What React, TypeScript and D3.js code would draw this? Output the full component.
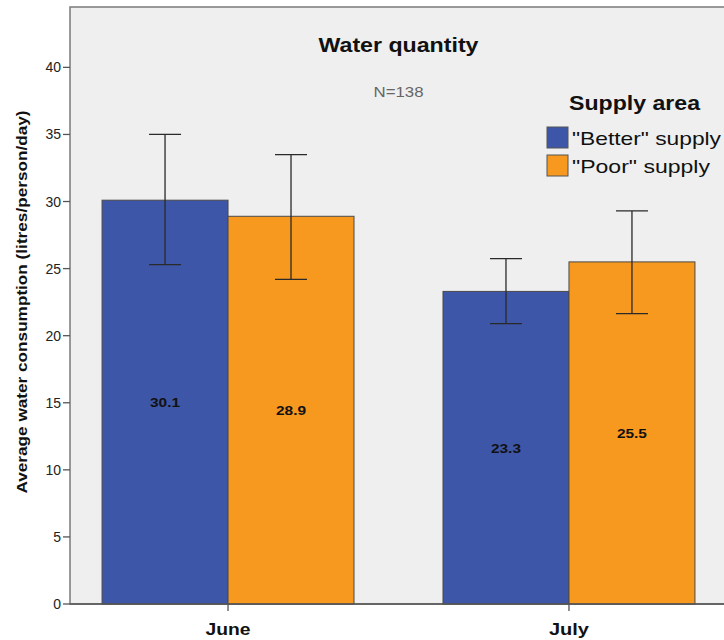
import React, { useEffect, useRef } from "react";
import * as d3 from "d3";

const months = ["June", "July"];
const groups = ['"Better" supply', '"Poor" supply'];
const colors = ["#3d56a8", "#f7981f"];
// mean, lower and upper 95% CI for each month, per group
const betterMean = [30.1, 23.3];
const betterLow = [25.3, 20.9];
const betterHigh = [35.0, 25.75];
const poorMean = [28.9, 25.5];
const poorLow = [24.2, 21.65];
const poorHigh = [33.5, 29.3];
const yTicks = [0, 5, 10, 15, 20, 25, 30, 35, 40];

const App = () => {
  const ref = useRef<SVGSVGElement>(null);

  useEffect(() => {
    const width = 724;
    const height = 640;
    const margin = { top: 7, right: -3, bottom: 36, left: 70 };

    const svg = d3.select(ref.current);
    svg.selectAll("*").remove();
    svg.style("font-family", "Arial, 'Liberation Sans', sans-serif");

    const x = d3.scaleBand()
      .domain(months)
      .range([margin.left, width - margin.right])
      .paddingInner(0.261)
      .paddingOuter(0.094);
    const xs = d3.scaleBand().domain(groups).range([0, x.bandwidth()]);
    const y = d3.scaleLinear()
      .domain([0, 44.5])
      .range([height - margin.bottom, margin.top]);

    // plot background
    svg.append("rect")
      .attr("x", margin.left)
      .attr("y", margin.top)
      .attr("width", width - margin.right - margin.left)
      .attr("height", y(0) - margin.top)
      .attr("fill", "#efefef")
      .attr("stroke", "#7a7a7a")
      .attr("stroke-width", 1.5);

    const rows = months.map((m, i) => ({
      month: m,
      vals: [
        { g: groups[0], mean: betterMean[i], lo: betterLow[i], hi: betterHigh[i], c: colors[0] },
        { g: groups[1], mean: poorMean[i], lo: poorLow[i], hi: poorHigh[i], c: colors[1] },
      ],
    }));

    const grp = svg.selectAll("g.month")
      .data(rows)
      .join("g")
      .attr("class", "month")
      .attr("transform", d => `translate(${x(d.month)},0)`);

    const items = grp.selectAll("g.bar")
      .data(d => d.vals)
      .join("g")
      .attr("class", "bar");

    items.append("rect")
      .attr("x", d => xs(d.g)!)
      .attr("y", d => y(d.mean))
      .attr("width", xs.bandwidth())
      .attr("height", d => y(0) - y(d.mean))
      .attr("fill", d => d.c)
      .attr("stroke", "#4a4a4a")
      .attr("stroke-width", 1);

    items.append("text")
      .attr("x", d => xs(d.g)! + xs.bandwidth() / 2)
      .attr("y", d => y(d.mean / 2) + 5)
      .attr("text-anchor", "middle")
      .attr("font-size", 13)
      .attr("font-weight", "bold")
      .attr("fill", "#111")
      .attr("textLength", 30)
      .attr("lengthAdjust", "spacingAndGlyphs")
      .text(d => d.mean.toFixed(1));

    const cap = 16;
    items.append("path")
      .attr("d", d => {
        const cx = xs(d.g)! + xs.bandwidth() / 2;
        return `M${cx - cap},${y(d.hi)}H${cx + cap}M${cx},${y(d.hi)}V${y(d.lo)}M${cx - cap},${y(d.lo)}H${cx + cap}`;
      })
      .attr("fill", "none")
      .attr("stroke", "#2a2a2a")
      .attr("stroke-width", 1.3);

    // y axis
    const yAxis = svg.append("g").attr("transform", `translate(${margin.left},0)`);
    yTicks.forEach(t => {
      yAxis.append("line")
        .attr("x1", -7).attr("x2", 0)
        .attr("y1", y(t)).attr("y2", y(t))
        .attr("stroke", "#555").attr("stroke-width", 1.3);
      yAxis.append("text")
        .attr("x", -9).attr("y", y(t) + 5)
        .attr("text-anchor", "end")
        .attr("font-size", 14)
        .attr("fill", "#222")
        .text(t);
    });

    // x axis
    svg.append("line")
      .attr("x1", margin.left).attr("x2", width)
      .attr("y1", y(0)).attr("y2", y(0))
      .attr("stroke", "#555").attr("stroke-width", 1.5);
    months.forEach(m => {
      const cx = x(m)! + x.bandwidth() / 2;
      svg.append("line")
        .attr("x1", cx).attr("x2", cx)
        .attr("y1", y(0)).attr("y2", y(0) + 7)
        .attr("stroke", "#555").attr("stroke-width", 1.3);
      svg.append("text")
        .attr("x", cx).attr("y", 635)
        .attr("text-anchor", "middle")
        .attr("font-size", 17)
        .attr("font-weight", "bold")
        .attr("fill", "#111")
        .attr("textLength", m === "June" ? 45 : 40)
        .attr("lengthAdjust", "spacingAndGlyphs")
        .text(m);
    });

    svg.append("text")
      .attr("transform", `translate(27,302) rotate(-90)`)
      .attr("text-anchor", "middle")
      .attr("font-size", 14)
      .attr("font-weight", "bold")
      .attr("fill", "#111")
      .attr("textLength", 383)
      .attr("lengthAdjust", "spacingAndGlyphs")
      .text("Average water consumption (litres/person/day)");

    const mid = (margin.left + width - margin.right) / 2;
    svg.append("text")
      .attr("x", mid).attr("y", 52)
      .attr("text-anchor", "middle")
      .attr("font-size", 20)
      .attr("font-weight", "bold")
      .attr("fill", "#111")
      .attr("textLength", 160)
      .attr("lengthAdjust", "spacingAndGlyphs")
      .text("Water quantity");
    svg.append("text")
      .attr("x", mid).attr("y", 97)
      .attr("text-anchor", "middle")
      .attr("font-size", 14)
      .attr("fill", "#666")
      .attr("textLength", 50)
      .attr("lengthAdjust", "spacingAndGlyphs")
      .text("N=138");

    // legend
    const lg = svg.append("g").attr("transform", "translate(547,0)");
    lg.append("text")
      .attr("x", 22).attr("y", 110)
      .attr("font-size", 20)
      .attr("font-weight", "bold")
      .attr("fill", "#111")
      .attr("textLength", 131)
      .attr("lengthAdjust", "spacingAndGlyphs")
      .text("Supply area");
    const itemLen = [149, 138];
    groups.forEach((g, i) => {
      lg.append("rect")
        .attr("x", 0).attr("y", 127 + i * 28)
        .attr("width", 21).attr("height", 21)
        .attr("fill", colors[i])
        .attr("stroke", "#555");
      lg.append("text")
        .attr("x", 25).attr("y", 145 + i * 28)
        .attr("font-size", 19)
        .attr("fill", "#111")
        .attr("textLength", itemLen[i])
        .attr("lengthAdjust", "spacingAndGlyphs")
        .text(g);
    });
  }, []);

  return <svg ref={ref} width={724} height={640} style={{ position: "absolute", left: 0, top: 0 }} />;
};

export default App;
